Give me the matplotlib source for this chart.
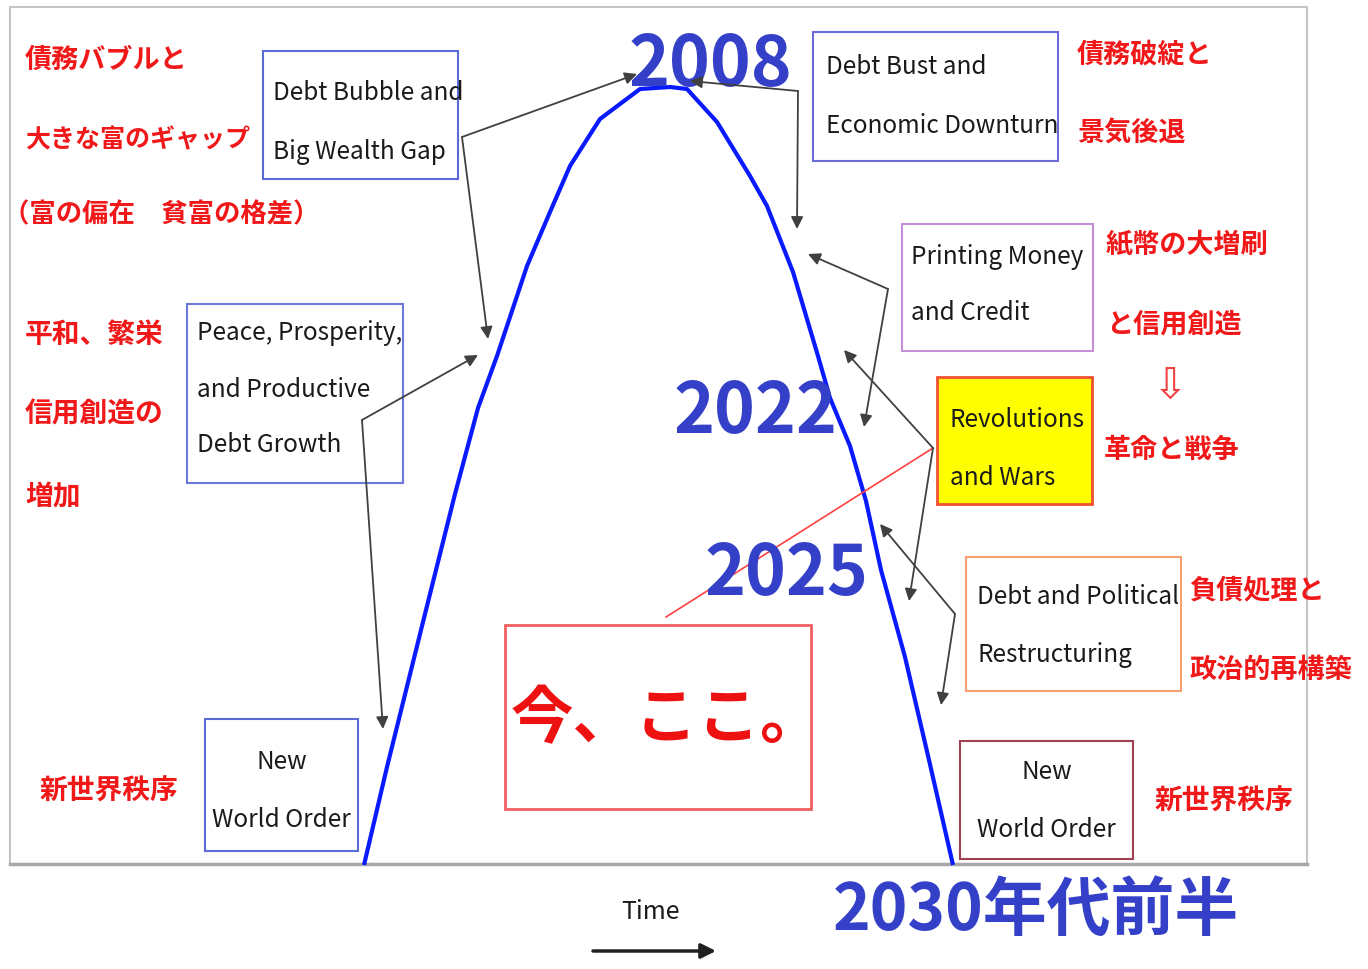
import matplotlib
matplotlib.use("Agg")
import matplotlib.pyplot as plt
from matplotlib.patches import Rectangle

# --- data -------------------------------------------------------------
# debt cycle curve (picture pixels)
curve_x = [364, 387, 423, 455, 478, 497, 527, 550, 570, 600, 640, 670, 687, 717, 750, 767,
           793, 818, 830, 850, 866, 881, 905, 929, 953]
curve_y = [866, 768, 623, 495, 409, 357, 267, 213, 167, 120, 90, 88, 90, 123, 177, 207,
           273, 357, 399, 447, 502, 571, 658, 761, 866]

year_labels = ["2008", "2022", "2025"]
late_label = "2030年代前半"
now_label = "今、ここ。"
time_label = "Time"

box_debt_bubble = ["Debt Bubble and", "Big Wealth Gap"]
box_debt_bust = ["Debt Bust and", "Economic Downturn"]
box_printing = ["Printing Money", "and Credit"]
box_revolutions = ["Revolutions", "and Wars"]
box_peace = ["Peace, Prosperity,", "and Productive", "Debt Growth"]
box_restructuring = ["Debt and Political", "Restructuring"]
box_new_order = ["New", "World Order"]

jp_bubble = ["債務バブルと", "大きな富のギャップ", "（富の偏在　貧富の格差）"]
jp_bust = ["債務破綻と", "景気後退"]
jp_printing = ["紙幣の大増刷", "と信用創造"]
jp_war = "革命と戦争"
jp_peace = ["平和、繁栄", "信用創造の", "増加"]
jp_restructuring = ["負債処理と", "政治的再構築"]
jp_new_order = "新世界秩序"

# --- figure -----------------------------------------------------------
fig = plt.figure(figsize=(13.68, 9.70), dpi=100)
ax = fig.add_axes([0, 0, 1, 1])
ax.set_xlim(0, 1368)
ax.set_ylim(970, 0)
ax.axis("off")

JP = ["Noto Sans CJK JP", "DejaVu Sans"]
RED = "#f01818"
YEAR_BLUE = "#3440c8"
ARROW = "#404040"

# outer frame
ax.add_patch(Rectangle((10, 8), 1297, 857, fill=False, ec="#c4c4c4", lw=1.5))
ax.plot([10, 1307], [865, 865], color="#a8a8a8", lw=2.5)

# curve
ax.plot(curve_x, curve_y, color="#0a1aff", lw=3, solid_capstyle="butt",
        solid_joinstyle="round", zorder=3)


def box(x0, y0, x1, y1, lines, ys, ec, x_text=None, center=False, fc="none", lw=1.5):
    ax.add_patch(Rectangle((x0, y0), x1 - x0, y1 - y0, fc=fc, ec=ec, lw=lw, zorder=2))
    for s, y in zip(lines, ys):
        x = (x0 + x1) / 2 if center else x_text
        ax.text(x, y, s, ha="center" if center else "left", va="center",
                fontsize=17.5, family=JP, color="#1a1a1a", zorder=4)


def jp(x, y, s, size=19.5):
    ax.text(x, y, s, ha="left", va="center", fontsize=size, family=JP,
            fontweight="bold", color=RED, zorder=4)


def arrow(x0, y0, x1, y1):
    ax.annotate("", xy=(x1, y1), xytext=(x0, y0),
                arrowprops=dict(arrowstyle="-|>", color=ARROW, lw=1.3,
                                mutation_scale=18, shrinkA=0, shrinkB=0),
                zorder=5)


# boxes
box(263, 52, 458, 180, box_debt_bubble, [93, 152], "#5b6bd6", x_text=273)
box(813, 33, 1058, 162, box_debt_bust, [67, 126], "#6a6ad8", x_text=826)
box(902, 225, 1093, 352, box_printing, [257, 313], "#c58fd8", x_text=911)
box(937, 378, 1092, 505, box_revolutions, [420, 478], "#f05030", x_text=950,
    fc="#ffff00", lw=2)
box(187, 305, 403, 484, box_peace, [333, 390, 445], "#6a78d8", x_text=197)
box(966, 558, 1181, 692, box_restructuring, [597, 655], "#f8a070", x_text=977)
box(205, 720, 358, 852, box_new_order, [762, 820], "#5b6bd6", center=True)
box(960, 742, 1133, 860, box_new_order, [772, 830], "#a04050", center=True)

# now-here box
ax.add_patch(Rectangle((505, 626), 306, 184, fill=False, ec="#f06060", lw=2, zorder=2))
ax.text(667, 720, now_label, ha="center", va="center", fontsize=45, family=JP,
        fontweight="bold", color="#ee1111", zorder=4)
ax.plot([666, 933], [618, 449], color="#ff4040", lw=1.2, zorder=3)

# year labels
for s, (x, y) in zip(year_labels, [(710, 66), (755, 413), (787, 575)]):
    ax.text(x, y, s, ha="center", va="center", fontsize=50, family=JP,
            fontweight="bold", color=YEAR_BLUE, zorder=4)
ax.text(1036, 911, late_label, ha="center", va="center", fontsize=46, family=JP,
        fontweight="bold", color=YEAR_BLUE)

# japanese notes
jp(25, 60, jp_bubble[0])
jp(25, 140, jp_bubble[1], size=18)
jp(3, 215, jp_bubble[2], size=19)
for s, y in zip(jp_bust, [55, 133]):
    jp(1077, y, s)
for s, y in zip(jp_printing, [245, 325]):
    jp(1106, y, s)
ax.text(1170, 386, "⇩", ha="center", va="center", fontsize=30,
        family="DejaVu Sans", color="#f04040")
jp(1104, 450, jp_war)
for s, y in zip(jp_peace, [335, 415, 497]):
    jp(25, y, s, size=20)
for s, y in zip(jp_restructuring, [590, 670]):
    jp(1189, y, s)
jp(40, 792, jp_new_order, size=20)
jp(1155, 802, jp_new_order, size=20)

# arrows
arrow(462, 138, 637, 75)
arrow(462, 138, 488, 340)
arrow(798, 92, 690, 82)
arrow(798, 92, 797, 230)
arrow(888, 290, 808, 255)
arrow(888, 290, 864, 428)
arrow(933, 449, 844, 351)
arrow(933, 449, 909, 602)
arrow(955, 615, 880, 525)
arrow(955, 615, 941, 706)
arrow(362, 421, 478, 356)
arrow(362, 421, 383, 730)

# time arrow
ax.text(650, 912, time_label, ha="center", va="center", fontsize=18,
        family=JP, color="#1a1a1a")
ax.annotate("", xy=(716, 952), xytext=(593, 952),
            arrowprops=dict(arrowstyle="-|>", color="#202020", lw=2.5,
                            mutation_scale=22, shrinkA=0, shrinkB=0))

fig.savefig("out.png", dpi=100)
